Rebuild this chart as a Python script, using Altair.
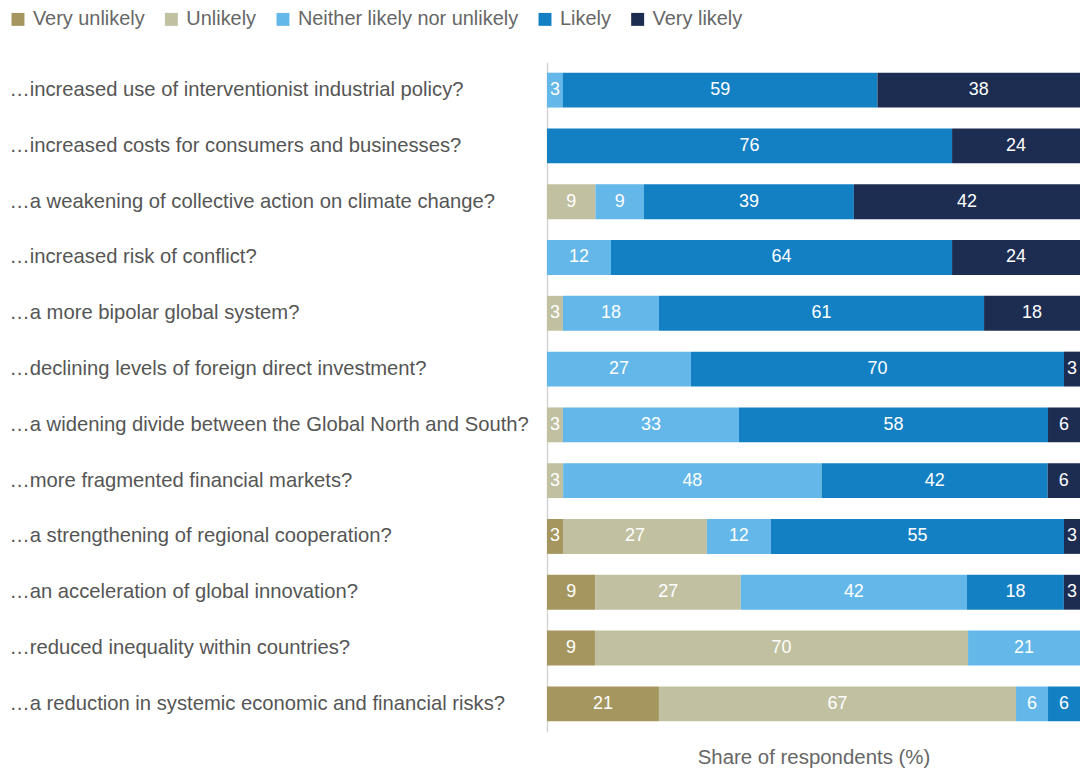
import altair as alt
import pandas as pd

questions = [
    "\u2026increased use of interventionist industrial policy?",
    "\u2026increased costs for consumers and businesses?",
    "\u2026a weakening of collective action on climate change?",
    "\u2026increased risk of conflict?",
    "\u2026a more bipolar global system?",
    "\u2026declining levels of foreign direct investment?",
    "\u2026a widening divide between the Global North and South?",
    "\u2026more fragmented financial markets?",
    "\u2026a strengthening of regional cooperation?",
    "\u2026an acceleration of global innovation?",
    "\u2026reduced inequality within countries?",
    "\u2026a reduction in systemic economic and financial risks?",
]
responses = ["Very unlikely", "Unlikely", "Neither likely nor unlikely", "Likely", "Very likely"]
colors = ["#a5965f", "#c1c1a2", "#63b7e9", "#1480c4", "#1d2d52"]

very_unlikely = [0, 0, 0, 0, 0, 0, 0, 0, 3, 9, 9, 21]
unlikely = [0, 0, 9, 0, 3, 0, 3, 3, 27, 27, 70, 67]
neither = [3, 0, 9, 12, 18, 27, 33, 48, 12, 42, 21, 6]
likely = [59, 76, 39, 64, 61, 70, 58, 42, 55, 18, 0, 6]
very_likely = [38, 24, 42, 24, 18, 3, 6, 6, 3, 3, 0, 0]

series = [very_unlikely, unlikely, neither, likely, very_likely]
rows = []
for qi, q in enumerate(questions):
    for ri, r in enumerate(responses):
        v = series[ri][qi]
        if v > 0:
            rows.append({"question": q, "response": r, "order": ri, "value": v})
df = pd.DataFrame(rows)

FONT = "Liberation Sans"

base = alt.Chart(df).transform_stack(
    stack="value",
    groupby=["question"],
    as_=["x0", "x1"],
    offset="normalize",
    sort=[alt.SortField("order", order="ascending")],
).transform_calculate(mid="(datum.x0 + datum.x1) / 2")

yenc = alt.Y(
    "question:N",
    sort=questions,
    scale=alt.Scale(paddingInner=0.375, paddingOuter=0.1875),
    axis=alt.Axis(
        title=None,
        ticks=False,
        labelAlign="left",
        labelPadding=540,
        labelLimit=0,
        labelFontSize=20.3,
        labelFont=FONT,
        labelColor="#555555",
        domainColor="#d4d4d4",
        domainWidth=1.5,
    ),
)

xscale = alt.Scale(domain=[0, 1], nice=False, zero=True)

bars = base.mark_bar().encode(
    y=yenc,
    x=alt.X(
        "x0:Q",
        scale=xscale,
        axis=alt.Axis(
            labels=False,
            ticks=False,
            domain=False,
            grid=False,
            title="Share of respondents (%)",
            titleFontSize=20.5,
            titleFont=FONT,
            titleFontWeight="normal",
            titleColor="#666666",
            titlePadding=16,
        ),
    ),
    x2="x1:Q",
    color=alt.Color(
        "response:N",
        sort=responses,
        scale=alt.Scale(domain=responses, range=colors),
        legend=alt.Legend(
            title=None,
            orient="none",
            legendX=-541,
            legendY=-53,
            direction="horizontal",
            symbolType="square",
            symbolSize=169,
            symbolStrokeWidth=0,
            labelFontSize=20,
            labelFont=FONT,
            labelColor="#666666",
            labelLimit=0,
            labelOffset=5,
            columnPadding=16,
            padding=0,
        ),
    ),
)

labels = base.mark_text(color="white", fontSize=18, font=FONT, align="center", baseline="middle").encode(
    y=alt.Y("question:N", sort=questions),
    x=alt.X("mid:Q", scale=xscale),
    text=alt.Text("value:Q"),
)

chart = (
    alt.layer(bars, labels)
    .properties(width=535, height=672, padding=0)
    .configure_view(stroke=None)
)

chart.save("out.html", embed_options={"renderer": "svg", "actions": False})
